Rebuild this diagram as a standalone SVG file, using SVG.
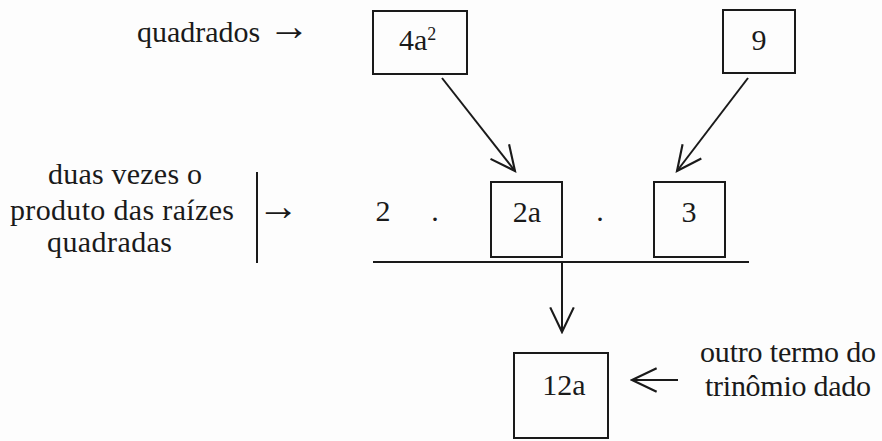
<svg xmlns="http://www.w3.org/2000/svg" width="882" height="441" viewBox="0 0 882 441">
<defs>
<marker id="open" markerUnits="userSpaceOnUse" markerWidth="30" markerHeight="30" viewBox="-26 -13 28 26" refX="0" refY="0" orient="auto">
<path d="M-23,-11 L0,0 L-23,11" fill="none" stroke="#1a1a1a" stroke-width="2"/>
</marker>
</defs>
<rect width="882" height="441" fill="#fdfdfd"/>
<g fill="#1a1a1a">
<g id="label-quadrados"><text font-family="Liberation Serif" font-size="30" x="137" y="42">quadrados <tspan font-size="42" dy="-2">→</tspan></text></g>
<g id="node-4a2"><rect x="373" y="11" width="94" height="63" fill="none" stroke="#1a1a1a" stroke-width="2"/><text font-family="Liberation Serif" font-size="30" x="399" y="50">4a<tspan font-size="18" dy="-10">2</tspan></text></g>
<g id="node-9"><rect x="723" y="10" width="72" height="63" fill="none" stroke="#1a1a1a" stroke-width="2"/><text font-family="Liberation Serif" font-size="30" text-anchor="middle" x="759" y="50">9</text></g>
<g id="label-duas"><text font-family="Liberation Serif" font-size="30" x="48" y="184" textLength="154">duas vezes o</text><text font-family="Liberation Serif" font-size="30" x="10" y="220" textLength="224">produto das raízes</text><text font-family="Liberation Serif" font-size="30" x="47" y="252" textLength="125">quadradas</text></g>
<g id="bracket"><line x1="257" y1="172" x2="257" y2="263" stroke="#1a1a1a" stroke-width="2"/><text font-family="Liberation Serif" font-size="42" x="257" y="220">→</text></g>
<g id="product"><text font-family="Liberation Serif" font-size="30" text-anchor="middle" x="383" y="221">2</text><text font-family="Liberation Serif" font-size="30" text-anchor="middle" x="435" y="221">.</text><text font-family="Liberation Serif" font-size="30" text-anchor="middle" x="600" y="221">.</text></g>
<g id="node-2a"><rect x="491" y="182" width="71" height="75" fill="none" stroke="#1a1a1a" stroke-width="2"/><text font-family="Liberation Serif" font-size="30" text-anchor="middle" x="527" y="222">2a</text></g>
<g id="node-3"><rect x="654" y="182" width="71" height="75" fill="none" stroke="#1a1a1a" stroke-width="2"/><text font-family="Liberation Serif" font-size="30" text-anchor="middle" x="689" y="222">3</text></g>
<g id="node-12a"><rect x="514" y="353" width="94" height="85" fill="none" stroke="#1a1a1a" stroke-width="2"/><text font-family="Liberation Serif" font-size="30" text-anchor="middle" x="564" y="395">12a</text></g>
<g id="label-outro"><text font-family="Liberation Serif" font-size="30" x="700" y="362" textLength="176">outro termo do</text><text font-family="Liberation Serif" font-size="30" x="705" y="396" textLength="166">trinômio dado</text></g>
</g>
<g id="connectors" fill="none" stroke="#1a1a1a" stroke-width="2">
<line x1="442" y1="78" x2="515" y2="171" marker-end="url(#open)"/>
<line x1="748" y1="78" x2="677" y2="171" marker-end="url(#open)"/>
<line x1="373" y1="262" x2="749" y2="262"/>
<line x1="562" y1="262" x2="562" y2="332" marker-end="url(#open)"/>
<line x1="678" y1="380" x2="632" y2="380" marker-end="url(#open)"/>
</g>
</svg>
